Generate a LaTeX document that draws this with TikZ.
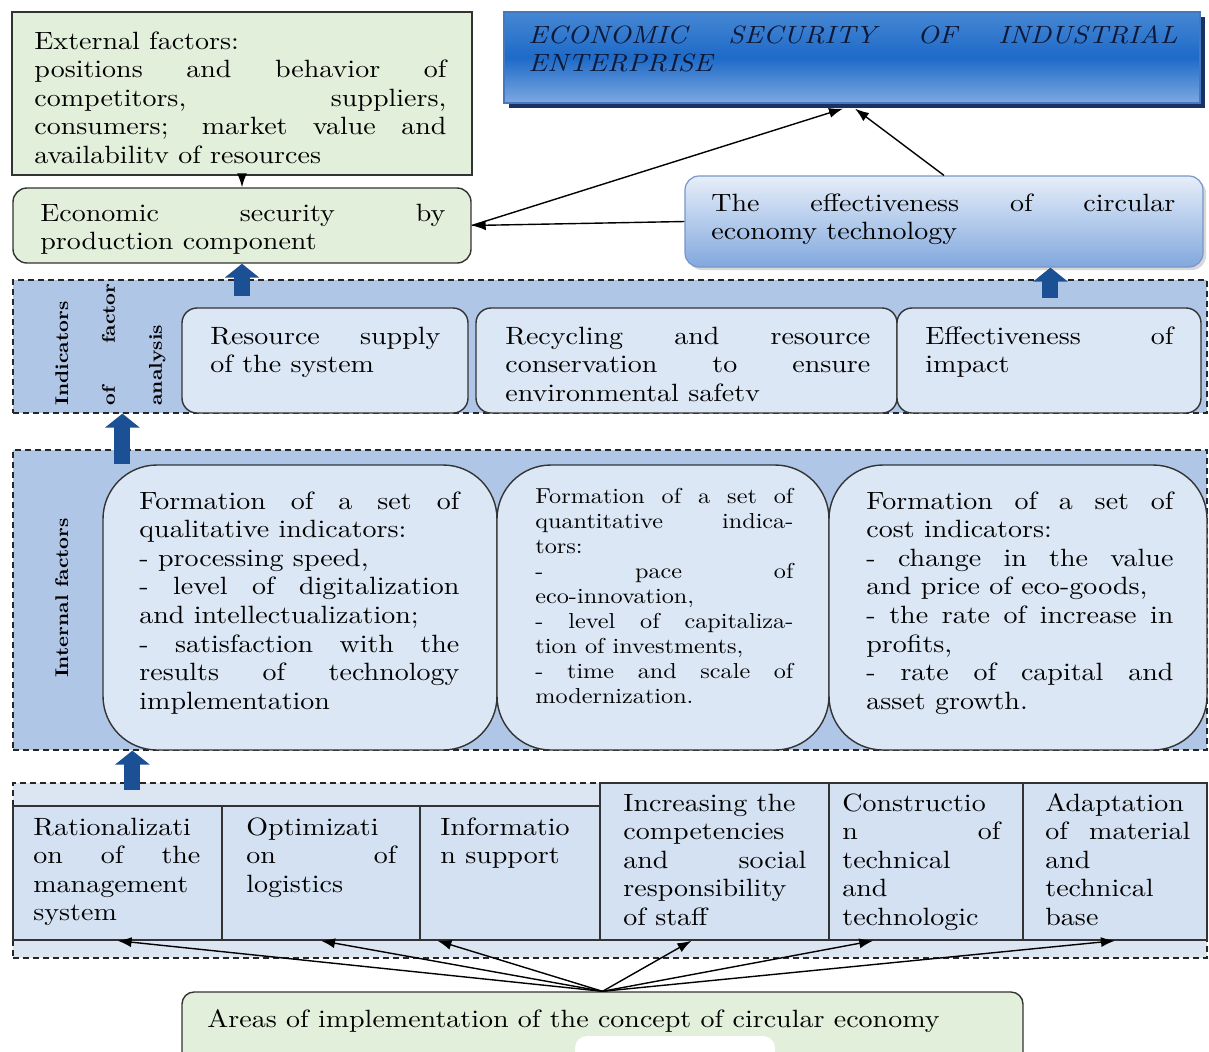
\documentclass[tikz,border=0pt]{standalone}
\usepackage{fontspec}
\setmainfont{lmroman10-regular.otf}[BoldFont=lmroman10-bold.otf, ItalicFont=lmroman10-italic.otf, BoldItalicFont=lmroman10-bolditalic.otf, FakeStretch=1.12]
\usetikzlibrary{arrows.meta,calc,fit,shadows}
\definecolor{pgreen}{RGB}{226,239,218}
\definecolor{bandblue}{RGB}{176,198,230}
\definecolor{boxblue}{RGB}{219,231,245}
\definecolor{lowband}{RGB}{220,230,243}
\definecolor{cellblue}{RGB}{212,225,242}
\definecolor{arrblue}{RGB}{28,80,148}
\definecolor{toptop}{RGB}{70,135,212}
\definecolor{topmid}{RGB}{30,106,200}
\definecolor{topbot}{RGB}{125,168,224}
\definecolor{topedge}{RGB}{70,120,190}
\definecolor{topshade}{RGB}{25,50,100}
\definecolor{topink}{RGB}{15,25,55}
\definecolor{efftop}{RGB}{230,238,249}
\definecolor{effbot}{RGB}{130,168,222}
\definecolor{effedge}{RGB}{120,150,200}
\tolerance=10000
\hyphenpenalty=10000
\hbadness=10000
\vbadness=10000

\begin{document}
\begin{tikzpicture}[x=0.5pt,y=-0.5pt,
  font=\fontsize{12.5}{14.3}\selectfont,
  frame/.style={inner sep=0pt, draw=black!80, line width=0.7pt},
  greenbox/.style={frame, fill=pgreen},
  softbox/.style={frame, fill=boxblue, rounded corners=7.5pt},
  bigbox/.style={frame, fill=boxblue, rounded corners=27pt},
  cell/.style={frame, fill=cellblue},
  band/.style={inner sep=0pt, draw=black!85, line width=0.6pt, dash pattern=on 3pt off 2pt},
  topbox/.style={inner sep=0pt, draw=topedge, line width=0.6pt, top color=toptop, bottom color=topbot, middle color=topmid,
    drop shadow={shadow xshift=2.5pt, shadow yshift=-2.5pt, fill=topshade, opacity=1}},
  effbox/.style={inner sep=0pt, draw=effedge, line width=0.6pt, rounded corners=7pt, top color=efftop, bottom color=effbot,
    drop shadow={shadow xshift=1.5pt, shadow yshift=-1.5pt, opacity=0.3}},
  txt/.style={inner sep=0pt, anchor=base west, align=justify},
  sidelbl/.style={inner sep=0pt, rotate=90, anchor=base west, align=justify, font=\fontsize{9.2}{23.5}\selectfont\bfseries},
  conn/.style={-{Latex[length=7pt,width=5pt]}, line width=0.7pt},
  blk/.style={draw=arrblue, line width=8pt, -{Triangle[length=7pt,width=17pt]}}
]
  \path[use as bounding box, fill=white] (0,0) rectangle (1209,1051);

  %dashed bands
  \node[band, fill=bandblue, fit={(13,280) (1207,413)}] (ind) {};
  \node[band, fill=bandblue, fit={(13,450) (1207,750)}] (intf) {};
  \node[band, fill=lowband, fit={(13,783) (1207,958)}] (low) {};

  %upper level
  \node[greenbox, fit={(12,12) (472,175)}] (ext) {};
  \node[txt, text width=206pt] (ext-t) at (34,49) {External factors:\\ positions and behavior of\linebreak competitors, suppliers,\linebreak consumers; market value and\linebreak availabilitv of resources};
  \node[greenbox, rounded corners=7pt, fit={(13,188) (471,263)}] (econp) {};
  \node[txt, text width=202.5pt] (econp-t) at (40,221) {Economic security by\linebreak production component};
  \node[topbox, fit={(504,12) (1200,103)}] (top) {};
  \node[txt, text width=324.5pt, font=\fontsize{12.5}{14.3}\selectfont\itshape, text=topink] (top-t) at (528,43) {ECONOMIC SECURITY OF INDUSTRIAL\linebreak ENTERPRISE};
  \node[effbox, fit={(685,176) (1203,267)}] (eff) {};
  \node[txt, text width=232pt] (eff-t) at (711,211) {The effectiveness of circular\linebreak economy technology};

  %indicators of factor analysis
  \node[sidelbl, text width=61pt] (ind-l) at (68,406) {Indicators\\ of factor\linebreak analysis};
  \node[softbox, fit={(182,308) (468,413)}] (res) {};
  \node[txt, text width=115pt] (res-t) at (210,344) {Resource supply\linebreak of the system};
  \node[softbox, fit={(476,308) (897,413)}] (rec) {};
  \node[txt, text width=182.5pt] (rec-t) at (505,344) {Recycling and resource\linebreak conservation to ensure\linebreak environmental safetv};
  \node[softbox, fit={(897,308) (1201,413)}] (imp) {};
  \node[txt, text width=124pt] (imp-t) at (925,344) {Effectiveness of\linebreak impact};

  %internal factors
  \node[sidelbl, anchor=base] (intf-l) at (68,598) {Internal factors};
  \node[bigbox, fit={(103,465) (497,750)}] (qual) {};
  \node[txt, text width=160pt] (qual-t) at (139,509) {Formation of a set of\linebreak qualitative indicators:\\ - processing speed,\\ - level of digitalization\linebreak and intellectualization;\\ - satisfaction with the\linebreak results of technology\linebreak implementation};
  \node[bigbox, fit={(497,465) (829,750)}] (quant) {};
  \node[txt, text width=129pt, font=\fontsize{10.8}{12.5}\selectfont] (quant-t) at (535,503) {Formation of a set of\linebreak quantitative indica-\linebreak tors:\\ - pace of\linebreak eco-innovation,\\ - level of capitaliza-\linebreak tion of investments,\\ - time and scale of\linebreak modernization.};
  \node[bigbox, fit={(829,465) (1207,750)}] (cost) {};
  \node[txt, text width=153.5pt] (cost-t) at (866,509) {Formation of a set of\linebreak cost indicators:\\ - change in the value\linebreak and price of eco-goods,\\ - the rate of increase in\linebreak profits,\\ - rate of capital and\linebreak asset growth.};

  %areas of implementation
  \node[cell, fit={(13,806) (222,940)}] (c1) {};
  \node[txt, text width=83.5pt] (c1-t) at (33,835) {Rationalizati\\ on of the\linebreak management\\ system};
  \node[cell, fit={(222,806) (420,940)}] (c2) {};
  \node[txt, text width=75pt] (c2-t) at (246,835) {Optimizati\\ on of\linebreak logistics};
  \node[cell, fit={(420,806) (600,940)}] (c3) {};
  \node[txt, text width=69pt] (c3-t) at (440,835) {Informatio\\ n support};
  \node[cell, fit={(600,783) (829,940)}] (c4) {};
  \node[txt, text width=91.5pt] (c4-t) at (623,811) {Increasing the\\ competencies\\ and social\linebreak responsibility\\ of staff};
  \node[cell, fit={(829,783) (1023,940)}] (c5) {};
  \node[txt, text width=79pt] (c5-t) at (842,811) {Constructio\\ n of\linebreak technical\\ and\\ technologic};
  \node[cell, fit={(1023,783) (1207,940)}] (c6) {};
  \node[txt, text width=72.5pt] (c6-t) at (1045,811) {Adaptation\\ of material\linebreak and\\ technical\\ base};

  \node[greenbox, rounded corners=6pt, fit={(182,992) (1023,1080)}] (area) {};
  \node[txt] (area-t) at (207,1027) {Areas of implementation of the concept of circular economy};
  \fill[white, rounded corners=6pt] (575,1036) rectangle (775,1075);

  %thin connectors
  \draw[conn] (ext) -- (econp);
  \draw[conn] (eff.west) -- (econp.east);
  \draw[conn] (econp.east) -- ($(top.south)+(-9,5)$);
  \draw[conn] (eff.north) -- ($(top.south)+(3,5)$);
  \draw[conn] (area.north) -- (c1.south);
  \draw[conn] (area.north) -- (c2.south);
  \draw[conn] (area.north) -- ($(c3.south west)!0.1!(c3.south east)$);
  \draw[conn] (area.north) -- ($(c4.south west)!0.4!(c4.south east)$);
  \draw[conn] (area.north) -- ($(c5.south west)!0.23!(c5.south east)$);
  \draw[conn] (area.north) -- (c6.south);

  %block arrows
  \draw[blk] ($(ind.north -| econp.south)+(0,17)$) -- (econp.south);
  \draw[blk] ($(eff.south west)!0.705!(eff.south east)+(0,30)$) -- ($(eff.south west)!0.705!(eff.south east)$);
  \draw[blk] ($(intf.north west)+(110,15)$) -- ($(ind.south west)+(110,0)$);
  \draw[blk] ($(low.north west)+(120,8)$) -- ($(intf.south west)+(120,0)$);
\end{tikzpicture}
\end{document}
